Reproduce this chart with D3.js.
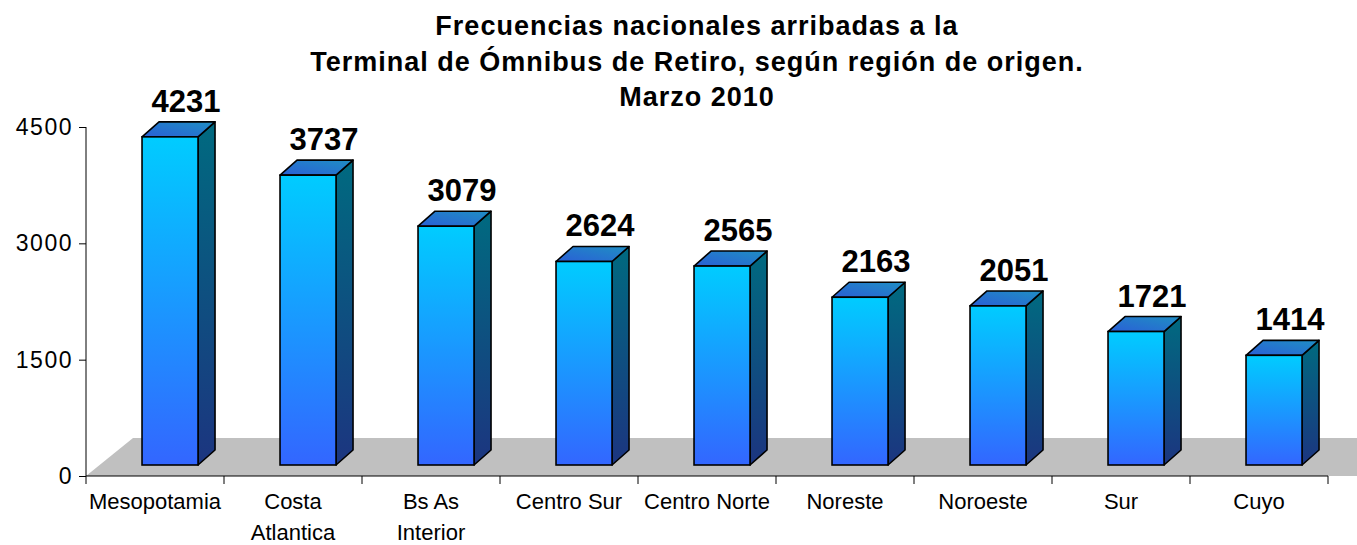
<!DOCTYPE html>
<html>
<head>
<meta charset="utf-8">
<script src="https://cdn.jsdelivr.net/npm/d3@7"></script>
<style>
  body { margin: 0; background: #fff; }
  text { font-family: "Liberation Sans", Arial, sans-serif; }
</style>
</head>
<body>
<div id="chart"></div>
<script>
const width = 1357
const height = 545

// Datos
const regions = ["Mesopotamia", "Costa Atlantica", "Bs As Interior", "Centro Sur", "Centro Norte", "Noreste", "Noroeste", "Sur", "Cuyo"]
const labelLines = [["Mesopotamia"], ["Costa", "Atlantica"], ["Bs As", "Interior"], ["Centro Sur"], ["Centro Norte"], ["Noreste"], ["Noroeste"], ["Sur"], ["Cuyo"]]
const values = [4231, 3737, 3079, 2624, 2565, 2163, 2051, 1721, 1414]
const yTicks = [0, 1500, 3000, 4500]
const titleLines = ["Frecuencias nacionales arribadas a la", "Terminal de Ómnibus de Retiro, según región de origen.", "Marzo 2010"]

const data = regions.map((r, i) => ({ region: r, value: values[i], lines: labelLines[i] }))

const svg = d3.select("#chart")
  .append("svg")
  .attr("width", width)
  .attr("height", height)

// Gradientes
const defs = svg.append("defs")
function grad(id, x1, y1, x2, y2, c1, c2) {
  const g = defs.append("linearGradient").attr("id", id)
    .attr("x1", x1).attr("y1", y1).attr("x2", x2).attr("y2", y2)
  g.append("stop").attr("offset", "0%").attr("stop-color", c1)
  g.append("stop").attr("offset", "100%").attr("stop-color", c2)
}
grad("gFront", 0, 0, 0, 1, "#00ccff", "#3366ff")
grad("gSide", 0, 0, 0, 1, "#006a80", "#1c3580")
grad("gTop", 0, 1, 1, 0, "#2a5fd6", "#1f8fc4")

// Escalas
const x0 = 86, x1 = 1328
const y = d3.scaleLinear().domain([0, 4500]).range([476, 127])
const x = d3.scaleBand().domain(regions).range([x0, x1]).padding(0)

// profundidad
const floorDx = 47, floorDy = -38
const barShiftY = -11
const depthX = 17, depthY = -15
const barW = 56

// Suelo
svg.append("path")
  .attr("d", `M${x0},${y(0)} L${x1 + 40},${y(0)} L${x1 + 40 + floorDx},${y(0) + floorDy} L${x0 + floorDx},${y(0) + floorDy} Z`)
  .attr("fill", "#c0c0c0")

// Ejes
const yAxis = d3.axisLeft(y).tickValues(yTicks).tickSize(7).tickPadding(6).tickFormat(d3.format("d"))
svg.append("g")
  .attr("transform", `translate(${x0},0)`)
  .call(yAxis)
  .call(g => g.select(".domain").attr("stroke", "#000").attr("d", `M0,${y(4500)}V${y(0)}`))
  .call(g => g.selectAll("text").attr("font-size", 23).attr("letter-spacing", 1.5).attr("fill", "#000").attr("font-family", "Liberation Sans, Arial"))

svg.append("line")
  .attr("x1", x0).attr("x2", x1)
  .attr("y1", y(0)).attr("y2", y(0))
  .attr("stroke", "#000")

const boundaries = regions.map(r => x(r)).concat([x1])
svg.selectAll(".xtick")
  .data(boundaries)
  .join("line")
  .attr("x1", d => d).attr("x2", d => d)
  .attr("y1", y(0)).attr("y2", y(0) + 8)
  .attr("stroke", "#000")

// Etiquetas de categorías
const catLabels = svg.selectAll(".cat")
  .data(data)
  .join("text")
  .attr("class", "cat")
  .attr("text-anchor", "middle")
  .attr("font-size", 22)
  .attr("fill", "#000")
catLabels.each(function(d) {
  d3.select(this).selectAll("tspan")
    .data(d.lines)
    .join("tspan")
    .attr("x", x(d.region) + x.bandwidth() / 2)
    .attr("y", (l, i) => 509 + i * 31)
    .text(l => l)
})

// Barras 3D
const bars = svg.selectAll(".bar")
  .data(data)
  .join("g")
  .attr("class", "bar")

const fx = d => x(d.region) + x.bandwidth() * 0.406
const fTop = d => y(d.value) + barShiftY
const fBot = () => y(0) + barShiftY

bars.append("path")
  .attr("d", d => `M${fx(d) + barW},${fBot()} L${fx(d) + barW + depthX},${fBot() + depthY} L${fx(d) + barW + depthX},${fTop(d) + depthY} L${fx(d) + barW},${fTop(d)} Z`)
  .attr("fill", "url(#gSide)")
  .attr("stroke", "#000").attr("stroke-width", 1.6).attr("stroke-linejoin", "round")

bars.append("path")
  .attr("d", d => `M${fx(d)},${fTop(d)} L${fx(d) + depthX},${fTop(d) + depthY} L${fx(d) + barW + depthX},${fTop(d) + depthY} L${fx(d) + barW},${fTop(d)} Z`)
  .attr("fill", "url(#gTop)")
  .attr("stroke", "#000").attr("stroke-width", 1.6).attr("stroke-linejoin", "round")

bars.append("rect")
  .attr("x", fx)
  .attr("y", fTop)
  .attr("width", barW)
  .attr("height", d => fBot() - fTop(d))
  .attr("fill", "url(#gFront)")
  .attr("stroke", "#000").attr("stroke-width", 1.6)

// Valores
bars.append("text")
  .attr("x", d => fx(d) + barW / 2 + 16)
  .attr("y", d => fTop(d) + depthY - 10)
  .attr("text-anchor", "middle")
  .attr("font-size", 31)
  .attr("font-weight", "bold")
  .attr("fill", "#000")
  .text(d => d.value)

// Título
svg.append("text")
  .attr("text-anchor", "middle")
  .attr("font-size", 27)
  .attr("font-weight", "bold")
  .attr("letter-spacing", 1)
  .attr("fill", "#000")
  .selectAll("tspan")
  .data(titleLines)
  .join("tspan")
  .attr("x", 697)
  .attr("y", (d, i) => 35 + i * 35.5)
  .text(d => d)
</script>
</body>
</html>
